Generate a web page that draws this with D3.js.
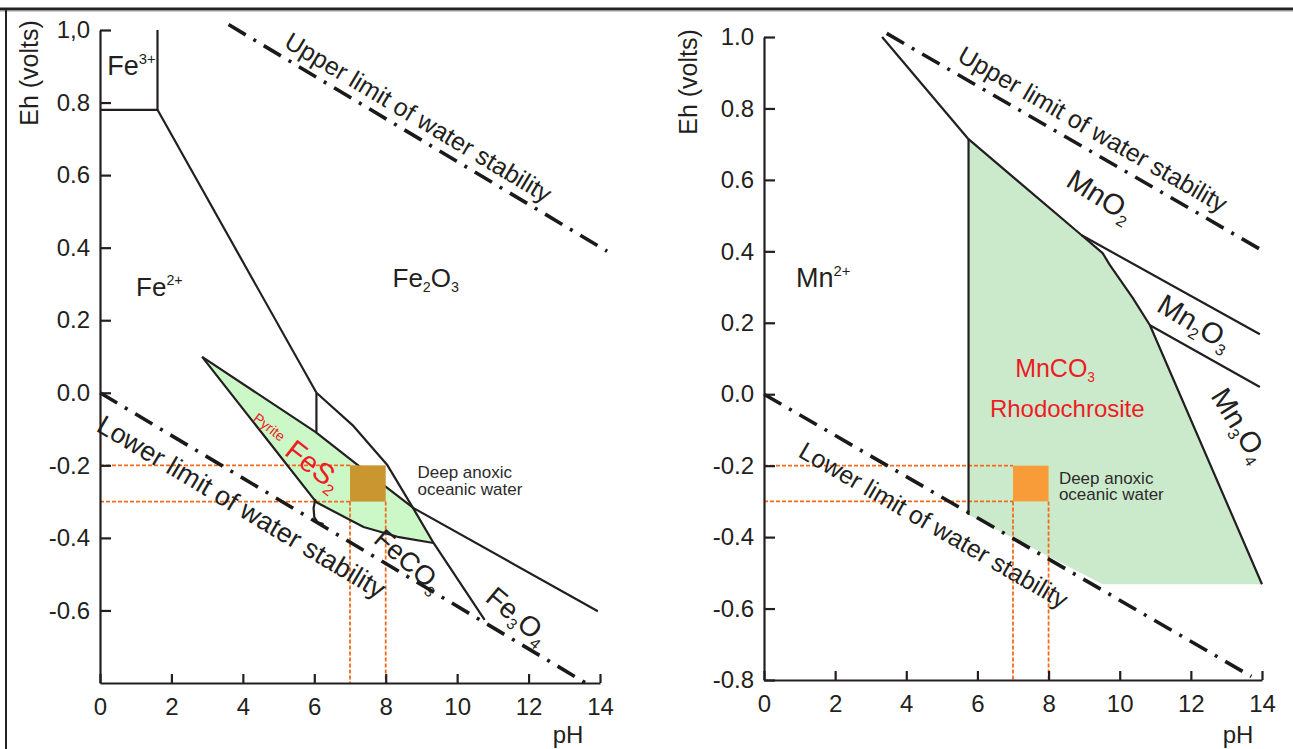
<!DOCTYPE html>
<html><head><meta charset="utf-8">
<script src="https://cdn.jsdelivr.net/npm/d3@7"></script>
<style>
html,body{margin:0;padding:0;background:#fff;}
svg{display:block;font-family:"Liberation Sans",Arial,Helvetica,sans-serif;}
</style></head><body>
<svg id="c" width="1293" height="749"></svg>
<script>
// ================= DATA =================
const phTicks = [0, 2, 4, 6, 8, 10, 12, 14];
const ehTicksFe = [1.0, 0.8, 0.6, 0.4, 0.2, 0.0, -0.2, -0.4, -0.6];
const ehTickLabelsFe = ["1,0", "0.8", "0.6", "0.4", "0.2", "0.0", "-0.2", "-0.4", "-0.6"];
const ehTicksMn = [1.0, 0.8, 0.6, 0.4, 0.2, 0.0, -0.2, -0.4, -0.6, -0.8];
const ehTickLabelsMn = ["1.0", "0.8", "0.6", "0.4", "0.2", "0.0", "-0.2", "-0.4", "-0.6", "-0.8"];

// Fe panel boundaries, [pH, Eh]
const feFe3Box = [[0, 0.78], [1.61, 0.78], [1.61, 1.0]];
const feFe2Fe2O3 = [[1.61, 0.78], [6.06, 0.0]];
const feVertical = [[6.06, 0.0], [6.06, -0.108]];
const feRightBoundary = [[6.06, 0.0], [7.07, -0.089], [8.05, -0.2], [8.78, -0.32], [9.34, -0.414], [10.77, -0.626]];
const feUpperEdge = [[2.86, 0.099], [6.03, -0.108], [7.21, -0.199], [8.08, -0.265], [8.78, -0.318], [13.94, -0.602]];
const feLowerEdge = [[2.86, 0.099], [6.06, -0.302], [7.38, -0.370], [8.33, -0.397], [9.34, -0.414]];
const feHook = [[6.03, -0.293], [5.98, -0.318], [6.0, -0.343], [6.09, -0.357], [6.26, -0.362]];
const pyriteField = [[2.86, 0.099], [6.03, -0.108], [7.21, -0.199], [8.08, -0.265], [8.78, -0.318],
                     [9.34, -0.414], [8.33, -0.397], [7.38, -0.370], [6.06, -0.302]];
const feUpperWater = [[3.6, 1.015], [14.2, 0.39]];
const feLowerWater = [[0, 0], [13.6, -0.80]];

// Mn panel boundaries, [pH, Eh]
const mnUpperLeft = [[3.32, 1.0], [5.75, 0.714]];
const mnVertical = [[5.75, 0.714], [5.75, -0.338]];
const mnCarbBoundary = [[5.75, 0.714], [8.93, 0.445], [9.52, 0.395], [9.72, 0.362], [10.37, 0.269], [10.85, 0.193], [14.0, -0.532]];
const mnO2Mn2O3 = [[8.93, 0.445], [13.94, 0.168]];
const mn2O3Mn3O4 = [[10.85, 0.193], [13.94, 0.02]];
const rhodoField = [[5.75, 0.714], [8.93, 0.445], [9.52, 0.395], [9.72, 0.362], [10.37, 0.269], [10.85, 0.193],
                    [14.0, -0.532], [9.52, -0.532], [5.75, -0.338]];
const mnUpperWater = [[3.45, 1.01], [14.05, 0.40]];
const mnLowerWater = [[0, 0], [13.7, -0.79]];

// deep anoxic oceanic water window
const deepPH = [7, 8];
const deepEh = [-0.2, -0.3];

// label texts
const waterUpperText = "Upper limit of water stability";
const waterLowerText = "Lower limit of water stability";
const deepText = ["Deep anoxic", "oceanic water"];
const feLabels = [
  {parts: [["Fe", ""], ["3+", "sup"]], at: [0.2, 0.876], size: 27},
  {parts: [["Fe", ""], ["2+", "sup"]], at: [1.01, 0.267]},
  {parts: [["Fe", ""], ["2", "sub"], ["O", ""], ["3", "sub"]], at: [8.19, 0.291]},
  {parts: [["FeCO", ""], ["3", "sub"]], at: [7.62, -0.41], rot: 41, size: 27},
  {parts: [["Fe", ""], ["3", "sub"], ["O", ""], ["4", "sub"]], at: [10.75, -0.571], rot: 40, size: 28},
  {parts: [["Pyrite", ""]], at: [4.26, -0.075], rot: 38, size: 14, red: true},
  {parts: [["FeS", ""], ["2", "sub"]], at: [5.13, -0.169], rot: 38, size: 29, red: true}
];
const mnLabels = [
  {parts: [["Mn", ""], ["2+", "sup"]], at: [0.9, 0.3], size: 27},
  {parts: [["MnO", ""], ["2", "sub"]], at: [8.45, 0.585], rot: 32, size: 29},
  {parts: [["Mn", ""], ["2", "sub"], ["O", ""], ["3", "sub"]], at: [11.0, 0.235], rot: 31, size: 29},
  {parts: [["Mn", ""], ["3", "sub"], ["O", ""], ["4", "sub"]], at: [12.54, -0.005], rot: 58, size: 29},
  {parts: [["MnCO", ""], ["3", "sub"]], at: [7.06, 0.048], size: 25, red: true},
  {parts: [["Rhodochrosite", ""]], at: [6.35, -0.063], size: 24, red: true}
];

// ================= DRAWING =================
const INK = "#231f20", RED = "#ed1c24", ORANGE = "#f26b1d";
const svg = d3.select("#c");

// frame
svg.append("line").attr("x1", 0).attr("x2", 1293).attr("y1", 9).attr("y2", 9)
  .attr("stroke", "#222").attr("stroke-width", 3);
svg.append("line").attr("x1", 0).attr("x2", 1293).attr("y1", 11).attr("y2", 11)
  .attr("stroke", "#9a9a9a").attr("stroke-width", 1);
svg.append("line").attr("x1", 6).attr("x2", 6).attr("y1", 8).attr("y2", 749)
  .attr("stroke", "#222").attr("stroke-width", 2);

function formula(g, parts, px, py, size, rot, color, anchor) {
  const t = g.append("text")
    .attr("transform", `translate(${px},${py}) rotate(${rot || 0})`)
    .attr("font-size", size).attr("fill", color).attr("text-anchor", anchor || "start");
  let shift = 0;
  parts.forEach(([s, type]) => {
    const target = type === "sub" ? size * 0.2 : type === "sup" ? -size * 0.42 : 0;
    t.append("tspan").text(s).attr("dy", target - shift)
      .attr("font-size", type ? size * 0.55 : size);
    shift = target;
  });
  return t;
}

function panel(o) {
  const x = d3.scaleLinear().domain([0, 14]).range(o.xr);
  const y = d3.scaleLinear().domain([-0.8, 1.0]).range(o.yr);
  const g = svg.append("g");
  const line = d3.line().x(d => x(d[0])).y(d => y(d[1]));

  // fields
  g.append("path").attr("d", line(o.field) + "Z").attr("fill", o.fieldColor).attr("stroke", "none");

  // orange guide lines
  const guide = g.append("g").attr("stroke", ORANGE).attr("stroke-width", 1.8)
    .attr("stroke-dasharray", "4,2").attr("fill", "none");
  deepEh.forEach(e => guide.append("path").attr("d", line([[0, e], [deepPH[0], e]])));
  deepPH.forEach(p => guide.append("path").attr("d", line([[p, d3.min(deepEh)], [p, -0.8]])));

  // boundaries
  const b = g.append("g").attr("stroke", INK).attr("stroke-width", 2.2).attr("fill", "none")
    .attr("stroke-linejoin", "round");
  o.bounds.forEach(arr => b.append("path").attr("d", line(arr)));

  // deep water box
  g.append("rect")
    .attr("x", x(deepPH[0])).attr("y", y(d3.max(deepEh)))
    .attr("width", x(deepPH[1]) - x(deepPH[0]))
    .attr("height", y(d3.min(deepEh)) - y(d3.max(deepEh)))
    .attr("fill", o.boxColor);

  // water lines
  const w = g.append("g").attr("stroke", "#1a1a1a").attr("stroke-width", 3.6).attr("fill", "none")
    .attr("stroke-dasharray", "20,9,3,9");
  [o.upperWater, o.lowerWater].forEach(arr => w.append("path").attr("d", line(arr)));

  // axes
  const ya = d3.axisLeft(y).tickValues(o.ehTicks).tickFormat((d, i) => o.ehLabels[i])
    .tickSizeInner(-11).tickSizeOuter(0).tickPadding(10);
  const xa = d3.axisBottom(x).tickValues(phTicks).tickFormat(d3.format("d"))
    .tickSizeInner(-9).tickSizeOuter(0).tickPadding(15);
  const gy = g.append("g").attr("transform", `translate(${x(0)},0)`).call(ya);
  const gx = g.append("g").attr("transform", `translate(0,${y(-0.8)})`).call(xa);
  [gx, gy].forEach(a => {
    a.selectAll("path,line").attr("stroke", INK).attr("stroke-width", 2.2);
    a.selectAll("text").attr("font-size", 24).attr("fill", INK)
      .attr("font-family", "'Liberation Sans',Arial,sans-serif");
  });

  // axis titles
  g.append("text").attr("transform", `translate(${o.ehTitle[0]},${o.ehTitle[1]}) rotate(-90)`)
    .attr("text-anchor", "middle").attr("font-size", 25).attr("fill", INK).text("Eh (volts)");
  g.append("text").attr("x", o.phTitle[0]).attr("y", o.phTitle[1])
    .attr("text-anchor", "middle").attr("font-size", 24).attr("fill", INK).text("pH");

  // water labels
  const ang = arr => Math.atan2(y(arr[1][1]) - y(arr[0][1]), x(arr[1][0]) - x(arr[0][0])) * 180 / Math.PI;
  g.append("text").attr("transform", `translate(${x(o.upperTextAt[0])},${y(o.upperTextAt[1])}) rotate(${ang(o.upperWater)})`)
    .attr("font-size", o.upperSize).attr("fill", INK).text(waterUpperText);
  g.append("text").attr("transform", `translate(${x(o.lowerTextAt[0])},${y(o.lowerTextAt[1])}) rotate(${ang(o.lowerWater)})`)
    .attr("font-size", o.lowerSize).attr("fill", INK).text(waterLowerText);

  // deep water text
  deepText.forEach((t, i) => g.append("text").attr("x", x(o.deepAt[0])).attr("y", y(o.deepAt[1]) + i * 16.5)
    .attr("font-size", 17).attr("fill", "#2b2b2b").text(t));

  // phase labels
  o.labels.forEach(l => formula(g, l.parts, x(l.at[0]), y(l.at[1]), l.size || 26, l.rot || 0, l.red ? RED : INK));
}

panel({
  xr: [100, 600], yr: [683, 30],
  ehTicks: ehTicksFe, ehLabels: ehTickLabelsFe,
  field: pyriteField, fieldColor: "#ccf8c8", boxColor: "#c9962f",
  bounds: [feFe3Box, feFe2Fe2O3, feVertical, feRightBoundary, feUpperEdge, feLowerEdge, feHook],
  upperWater: feUpperWater, lowerWater: feLowerWater,
  upperTextAt: [5.12, 0.955], lowerTextAt: [-0.14, -0.103], upperSize: 25, lowerSize: 27,
  deepAt: [8.89, -0.235],
  ehTitle: [38, 73], phTitle: [568, 743],
  labels: feLabels
});

panel({
  xr: [764, 1262], yr: [680, 37],
  ehTicks: ehTicksMn, ehLabels: ehTickLabelsMn,
  field: rhodoField, fieldColor: "#cbeacc", boxColor: "#f79c38",
  bounds: [mnUpperLeft, mnVertical, mnCarbBoundary, mnO2Mn2O3, mn2O3Mn3O4],
  upperWater: mnUpperWater, lowerWater: mnLowerWater,
  upperTextAt: [5.4, 0.935], lowerTextAt: [0.93, -0.173], upperSize: 25, lowerSize: 25,
  deepAt: [8.29, -0.251],
  ehTitle: [697, 82], phTitle: [1238, 743],
  labels: mnLabels
});
</script>
</body></html>
